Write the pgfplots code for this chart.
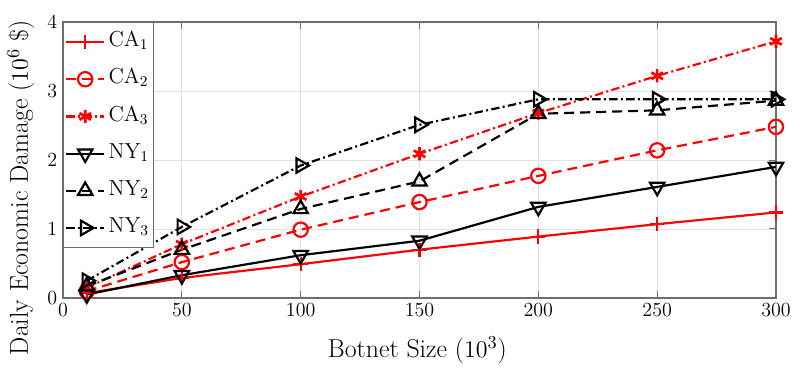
\documentclass[border=0pt]{standalone}
\usepackage{pgfplots}
\pgfplotsset{compat=1.18}
\definecolor{axgray}{RGB}{110,110,110}
\definecolor{gridgray}{RGB}{225,225,225}
\begin{document}
\begin{tikzpicture}
\path[use as bounding box] (-37.8pt,-51pt) rectangle (442.2pt,178.8pt);
\begin{axis}[
  at={(0,0)}, anchor=south west,
  scale only axis, width=427.8pt, height=165.6pt,
  xmin=0, xmax=300, ymin=0, ymax=4,
  xtick={0,50,...,300}, ytick={0,1,2,3,4},
  grid=major, major grid style={gridgray, line width=0.5pt},
  axis line style={axgray, line width=0.7pt},
  tick style={axgray, line width=0.6pt},
  tick align=inside, tick pos=both,
  major tick length=4pt,
  tick label style={font=\fontsize{12.5}{13}\selectfont},
  xlabel={Botnet Size ($10^3$)},
  ylabel={Daily Economic Damage ($10^6$ \$)},
  label style={font=\fontsize{15.5}{16}\selectfont},
  xlabel style={at={(axis description cs:0.497,-0.19)}, anchor=center},
  ylabel style={at={(axis description cs:-0.059,0.40)}, anchor=center},
  legend cell align=left,
  legend style={font=\fontsize{13}{14}\selectfont, draw=axgray, line width=0.6pt, inner xsep=1pt, inner ysep=3.5pt, row sep=5.8pt, at={(0,1)}, anchor=north west,
    nodes={text height=9pt, text depth=3.5pt}},
  legend image code/.code={\draw[mark repeat=2,mark phase=2] plot coordinates {(0cm,0cm) (0.4cm,0cm) (0.8cm,0cm)};},
  every axis plot/.append style={line width=1.3pt},
]
\addplot[red, solid, mark=+, mark size=4.3pt, mark options={solid}] coordinates {
(10,0.07) (50,0.29) (100,0.49) (150,0.70) (200,0.89) (250,1.07) (300,1.24)};
\addlegendentry{CA$_1$}
\addplot[red, dash pattern=on 6pt off 3.6pt, mark=o, mark size=4.3pt, mark options={solid}] coordinates {
(10,0.10) (50,0.52) (100,0.99) (150,1.39) (200,1.77) (250,2.14) (300,2.48)};
\addlegendentry{CA$_2$}
\addplot[red, dash pattern=on 5pt off 2pt on 1.2pt off 2pt, mark=asterisk, mark size=4pt, mark options={solid, line width=1.6pt}] coordinates {
(10,0.15) (50,0.78) (100,1.47) (150,2.09) (200,2.68) (250,3.22) (300,3.72)};
\addlegendentry{CA$_3$}
\addplot[black, solid, mark=triangle, mark size=5pt, mark options={solid, rotate=180}] coordinates {
(10,0.05) (50,0.33) (100,0.62) (150,0.83) (200,1.32) (250,1.61) (300,1.90)};
\addlegendentry{NY$_1$}
\addplot[black, dash pattern=on 6pt off 3.6pt, mark=triangle, mark size=5pt, mark options={solid}] coordinates {
(10,0.17) (50,0.70) (100,1.29) (150,1.69) (200,2.67) (250,2.72) (300,2.86)};
\addlegendentry{NY$_2$}
\addplot[black, dash pattern=on 5pt off 2pt on 1.2pt off 2pt, mark=triangle, mark size=5pt, mark options={solid, rotate=-90}] coordinates {
(10,0.25) (50,1.03) (100,1.92) (150,2.51) (200,2.88) (250,2.88) (300,2.88)};
\addlegendentry{NY$_3$}
\end{axis}
\end{tikzpicture}
\end{document}
